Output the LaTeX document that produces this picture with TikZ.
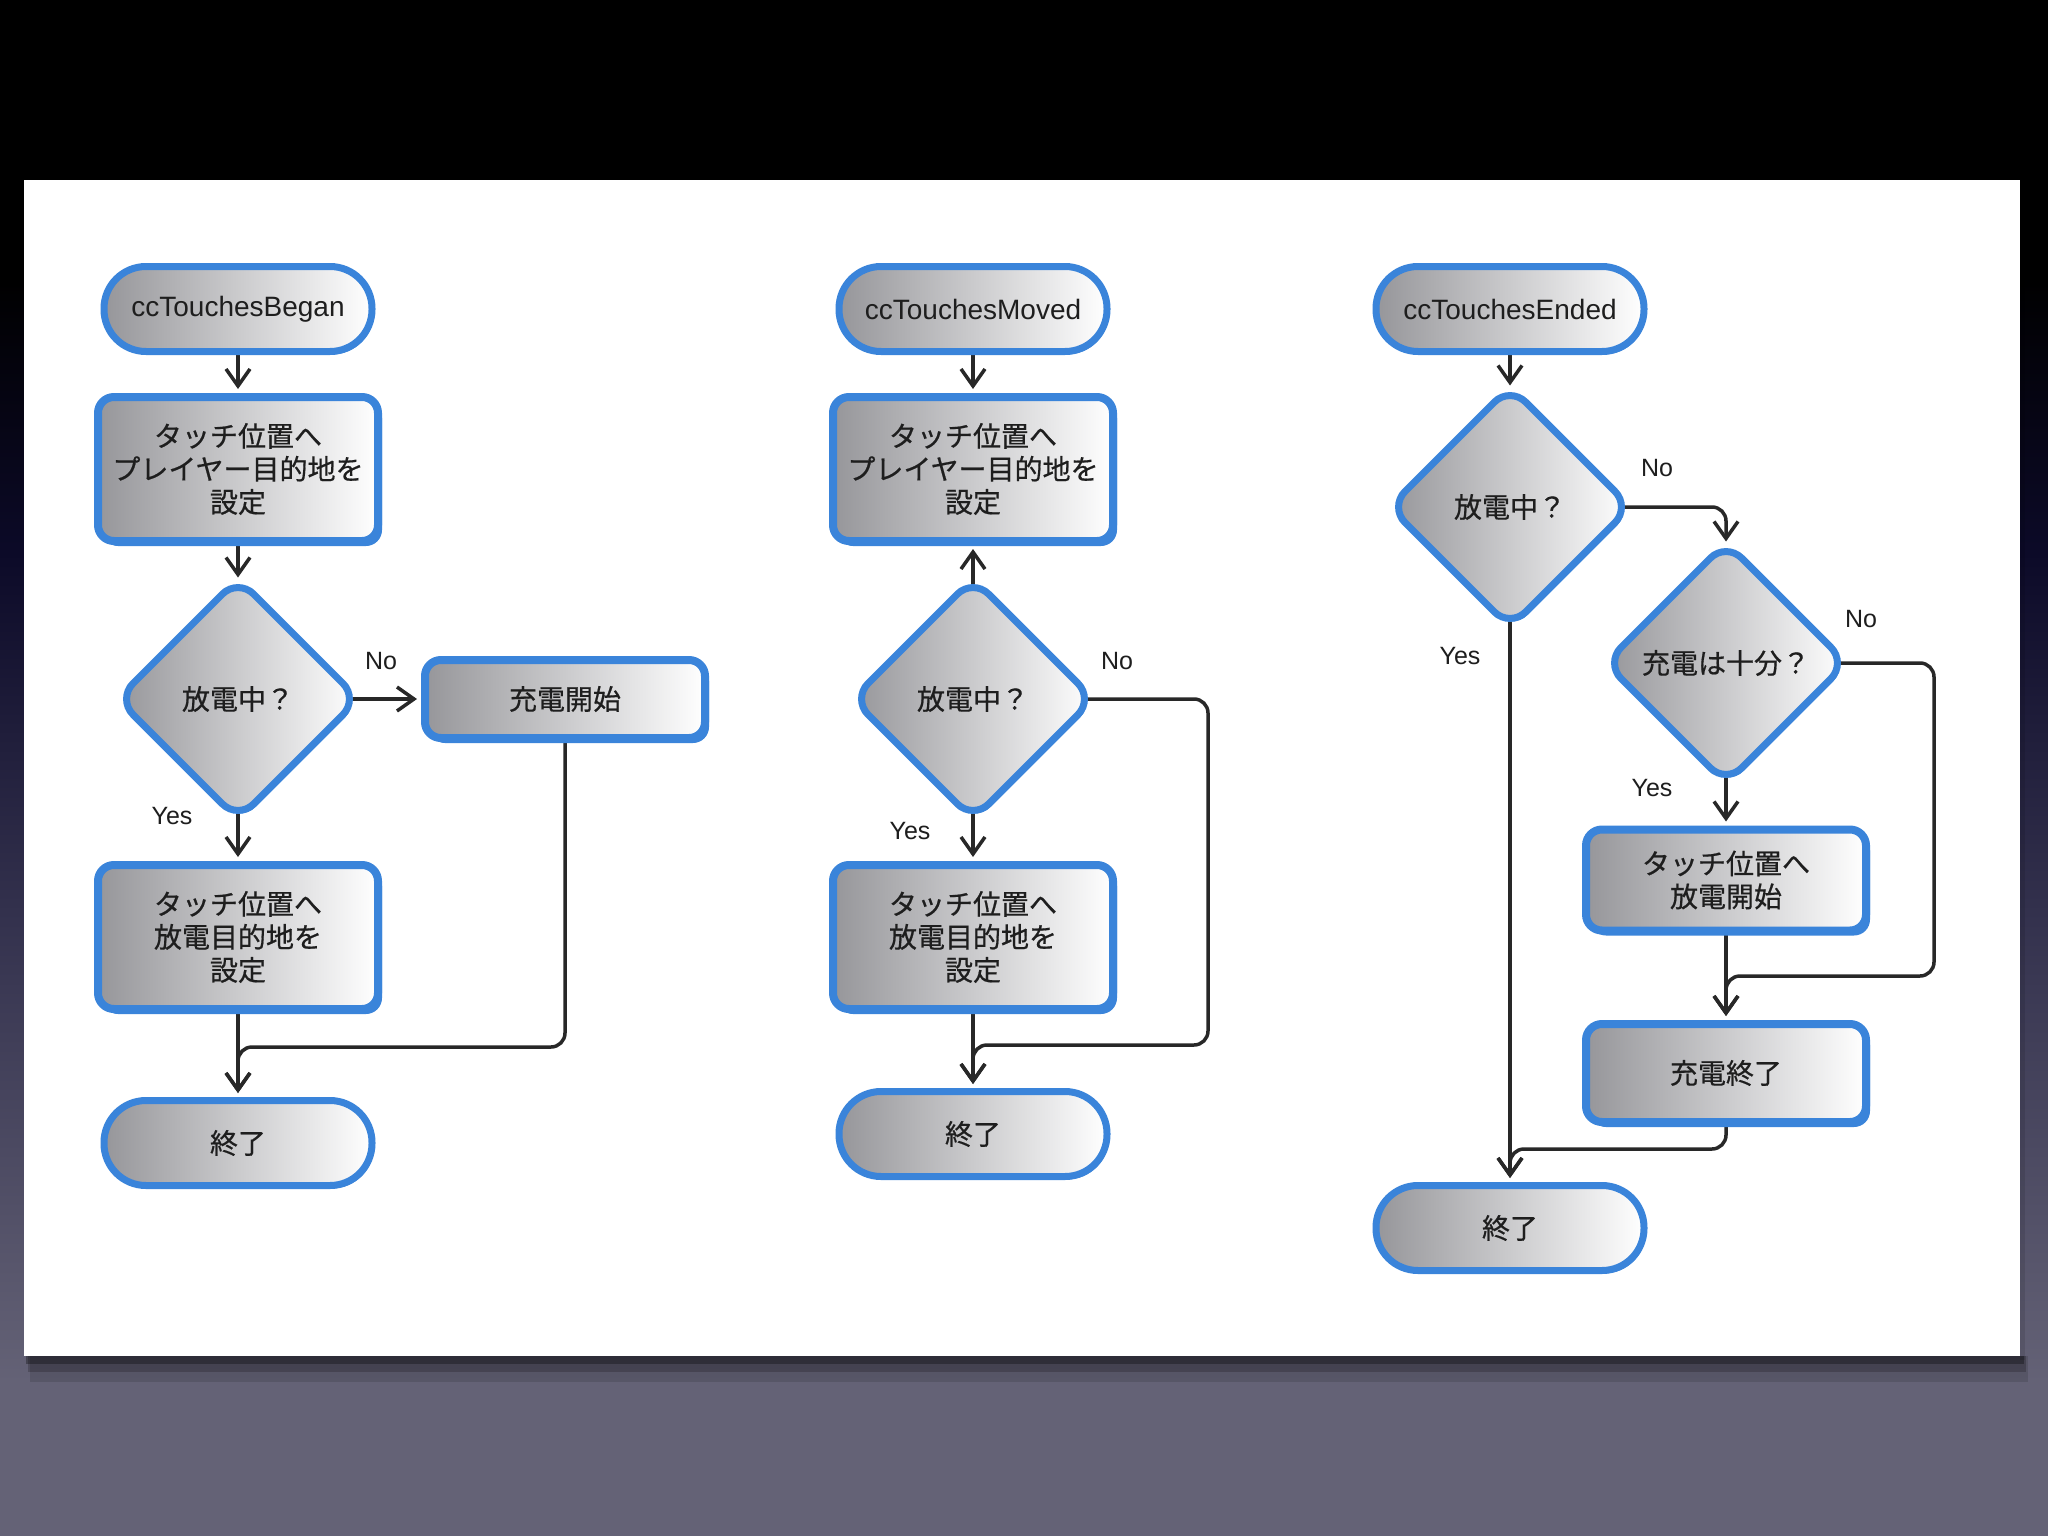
\documentclass[tikz,border=0pt]{standalone}
\usepackage{fontspec}
\setmainfont{Liberation Sans}
\newfontfamily\jp[FakeBold=0.6]{Noto Sans CJK JP}
\usetikzlibrary{shapes.geometric,arrows.meta}
\definecolor{nodeblue}{RGB}{58,132,218}
\definecolor{fillgray}{RGB}{150,150,154}
\definecolor{linec}{RGB}{40,40,40}
\definecolor{txt}{RGB}{30,30,30}
\definecolor{bgbot}{RGB}{100,98,118}
\definecolor{bgmid}{RGB}{52,50,78}
\definecolor{bgnavy}{RGB}{12,10,40}
\pgfdeclareverticalshading{bgshade}{100bp}{color(0bp)=(bgbot); color(30bp)=(bgbot); color(45bp)=(bgmid); color(57bp)=(bgnavy); color(66bp)=(black); color(100bp)=(black)}
\pgfdeclarelayer{back}
\pgfdeclarelayer{conn}
\pgfsetlayers{back,conn,main}
\tikzset{
  base/.style={text=txt, align=center, inner sep=0pt, left color=fillgray, right color=white, draw=nodeblue, font=\fontsize{28}{33}\selectfont\jp},
  term/.style={base, rounded corners=42pt, minimum width=268pt, minimum height=85pt, line width=7pt,
     preaction={fill=nodeblue, transform canvas={shift={(2pt,-3pt)}}}},
  proc/.style={base, rounded corners=16pt, minimum width=280pt, line width=8pt,
     preaction={fill=nodeblue, transform canvas={shift={(4pt,-5pt)}}}},
  dec/.style={base, diamond, rounded corners=22pt, minimum width=244pt, minimum height=244pt, line width=7pt,
     preaction={fill=nodeblue, transform canvas={shift={(2pt,-3pt)}}}},
  arr/.style={draw=linec, line width=3.5pt, rounded corners=14pt, shorten >=4pt, -{Straight Barb[length=17pt,width=24pt,line width=3.5pt]}},
  todia/.style={shorten >=-4pt},
  lbl/.style={font=\fontsize{25}{28}\selectfont, text=txt, inner sep=0pt},
  latin/.style={font=\fontsize{28}{33}\selectfont}
}
\begin{document}
\begin{tikzpicture}[x=1pt,y=-1pt]
\useasboundingbox (0,0) rectangle (2048,1536);
\begin{pgfonlayer}{back}
  \shade[shading=bgshade] (0,0) rectangle (2048,1536);
  \fill[black,opacity=0.3] (26,1356) rectangle (2024,1364);
  \fill[black,opacity=0.2] (28,1356) rectangle (2026,1372);
  \fill[black,opacity=0.12] (30,1356) rectangle (2028,1382);
  \fill[black,opacity=0.1] (2020,190) rectangle (2025,1360);
  \fill[white] (24,180) rectangle (2020,1356);
\end{pgfonlayer}

% column 1
\node[term,latin] (sB) at (238,309) {ccTouchesBegan};
\node[proc,minimum height=144pt] (p1B) at (238,469) {タッチ位置へ\\プレイヤー目的地を\\設定};
\node[dec] (dB) at (238,699) {放電中？};
\node[proc,minimum height=78pt] (cB) at (565,699) {充電開始};
\node[proc,minimum height=144pt] (p2B) at (238,937) {タッチ位置へ\\放電目的地を\\設定};
\node[term] (eB) at (238,1143) {終了};
\node[lbl] (noB) at (381,661) {No};
\node[lbl] (yesB) at (172,816) {Yes};
\coordinate (jB) at (238,1047);

% column 2
\node[term,latin] (sM) at (973,309) {ccTouchesMoved};
\node[proc,minimum height=144pt] (p1M) at (973,469) {タッチ位置へ\\プレイヤー目的地を\\設定};
\node[dec] (dM) at (973,699) {放電中？};
\node[proc,minimum height=144pt] (p2M) at (973,937) {タッチ位置へ\\放電目的地を\\設定};
\node[term] (eM) at (973,1134) {終了};
\node[lbl] (noM) at (1117,661) {No};
\node[lbl] (yesM) at (910,831) {Yes};
\coordinate (rM) at (1208,1045);
\coordinate (jM) at (973,1045);

% column 3
\node[term,latin] (sE) at (1510,309) {ccTouchesEnded};
\node[dec] (d1E) at (1510,507) {放電中？};
\node[dec] (d2E) at (1726,663) {充電は十分？};
\node[proc,minimum height=101pt] (pE) at (1726,880) {タッチ位置へ\\放電開始};
\node[proc,minimum height=98pt] (cE) at (1726,1073) {充電終了};
\node[term] (eE) at (1510,1228) {終了};
\node[lbl] (no1E) at (1657,468) {No};
\node[lbl] (yes1E) at (1460,656) {Yes};
\node[lbl] (no2E) at (1861,619) {No};
\node[lbl] (yes2E) at (1652,788) {Yes};
\coordinate (rE) at (1934,976);
\coordinate (jE) at (1726,976);
\coordinate (kE) at (1510,1149);

\begin{pgfonlayer}{conn}
  \draw[arr] (sB) -- (p1B);
  \draw[arr,todia] (p1B) -- (dB);
  \draw[arr] (dB.center) -- (cB);
  \draw[arr] (dB.center) -- (p2B);
  \draw[arr] (p2B) -- (eB);
  \draw[arr] (cB.south) |- (jB) -- (eB.north);

  \draw[arr] (sM) -- (p1M);
  \draw[arr] (dM.center) -- (p1M);
  \draw[arr] (dM.center) -- (p2M);
  \draw[arr] (p2M) -- (eM);
  \draw[arr] (dM.center) -| (rM) -- (jM) -- (eM.north);

  \draw[arr,todia] (sE) -- (d1E);
  \draw[arr,todia] (d1E.center) -| (d2E.north);
  \draw[arr] (d1E.center) -- (eE);
  \draw[arr] (d2E.center) -- (pE);
  \draw[arr] (pE) -- (cE);
  \draw[arr] (d2E.center) -| (rE) -- (jE) -- (cE.north);
  \draw[arr] (cE.south) |- (kE) -- (eE.north);
\end{pgfonlayer}
\end{tikzpicture}
\end{document}
